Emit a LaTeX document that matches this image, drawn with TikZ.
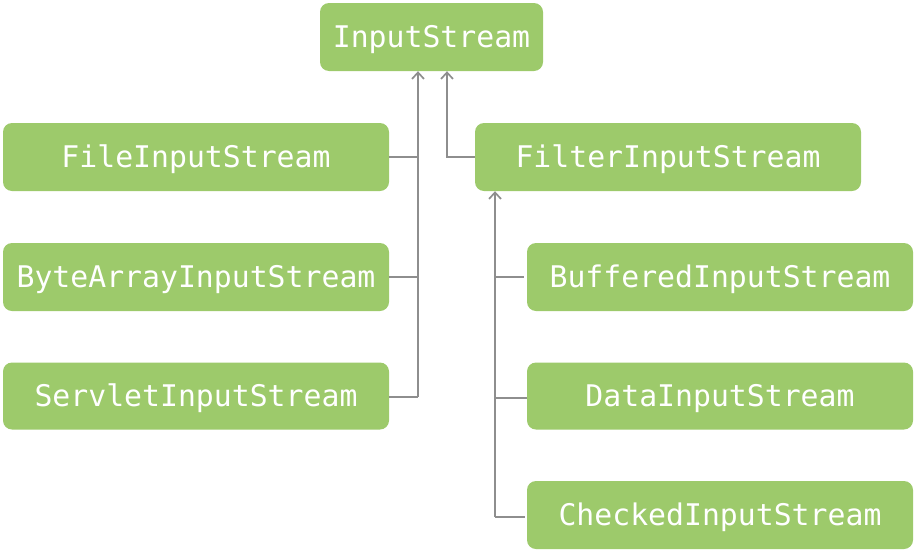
\documentclass[tikz,border=0pt]{standalone}
\usepackage{fontspec}
\setmonofont{DejaVu Sans Mono}
\usetikzlibrary{arrows.meta}
\definecolor{boxgreen}{HTML}{9DCA6B}
\definecolor{linegray}{HTML}{8E8E8E}
\begin{document}
\begin{tikzpicture}[x=1pt,y=-1pt,
  cls/.style={fill=boxgreen, draw=none, rounded corners=9pt, text=white,
    font=\ttfamily\fontsize{29.8}{31}\selectfont, inner sep=0pt, anchor=center,
    text height=21.7pt, text depth=0pt},
  wide/.style={cls, minimum width=386pt, minimum height=68pt},
  conn/.style={draw=linegray, line width=1.8pt},
  arr/.style={conn, -{Straight Barb[length=6.5pt,width=12pt,line width=1.7pt]}}]
\useasboundingbox (0,0) rectangle (916,552);
\node[cls, minimum width=223pt, minimum height=68pt] (input) at (431.5,37) {InputStream};
\node[wide] (file) at (196,157) {FileInputStream};
\node[wide] (byte) at (196,277) {ByteArrayInputStream};
\node[wide, minimum height=67pt] (serv) at (196,396) {ServletInputStream};
\node[wide] (filter) at (668,157) {FilterInputStream};
\node[wide] (buf) at (720,277) {BufferedInputStream};
\node[wide, minimum height=67pt] (data) at (720,396) {DataInputStream};
\node[wide] (check) at (720,515) {CheckedInputStream};
% left trunk
\coordinate (j1) at (418,397);
\draw[arr] (j1) -- (j1 |- input.south);
\draw[conn] (file.east) -- (file.east -| j1);
\draw[conn] (byte.east) -- (byte.east -| j1);
\draw[conn] (serv.east |- j1) -- (j1);
% filter to input
\coordinate (j3) at (447,157);
\draw[arr] (filter.west) -- (j3) -- (j3 |- input.south);
% right trunk
\coordinate (j2) at (495,517);
\coordinate (d1) at (495,398);
\draw[arr] (j2) -- (j2 |- filter.south);
\draw[conn] (j2 |- buf.west) -- ([xshift=-3pt]buf.west);
\draw[conn] (d1) -- (d1 -| data.west);
\draw[conn] (j2) -- ([xshift=-2pt]check.west |- j2);
\end{tikzpicture}
\end{document}
